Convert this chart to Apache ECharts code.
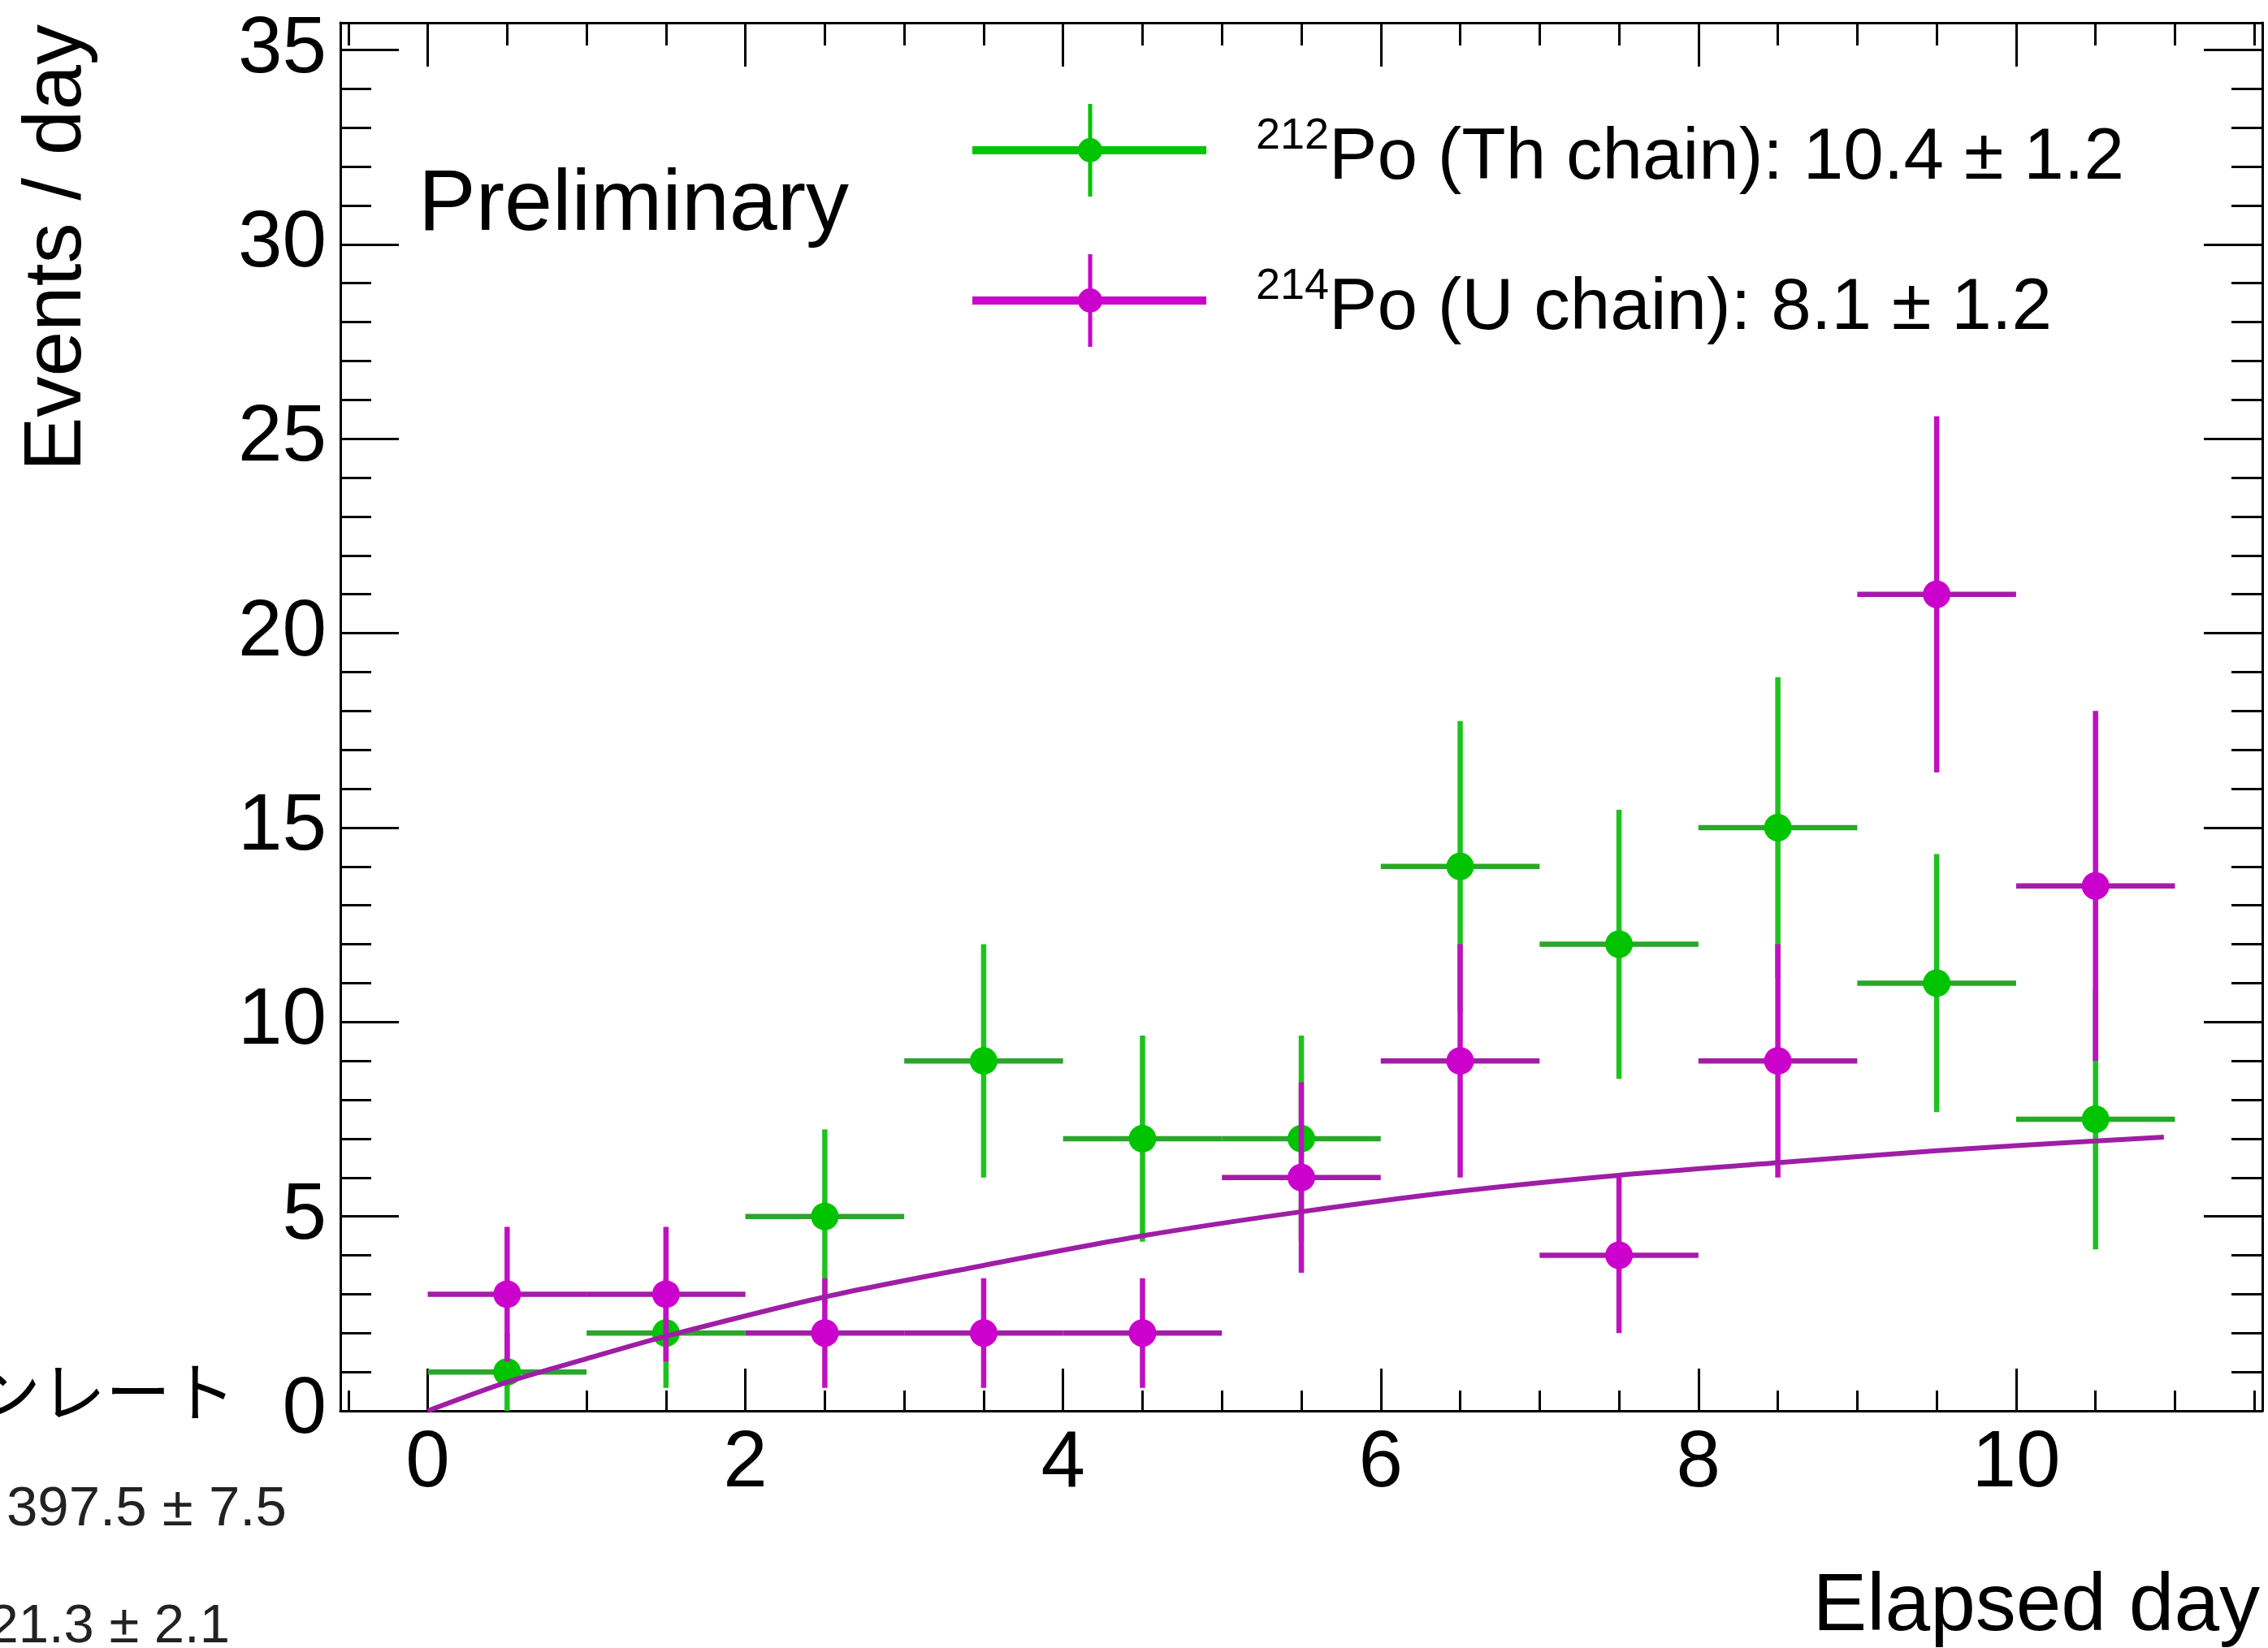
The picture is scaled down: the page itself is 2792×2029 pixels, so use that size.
<!DOCTYPE html>
<html><head><meta charset="utf-8">
<script src="https://cdn.jsdelivr.net/npm/echarts@6/dist/echarts.min.js"></script>
<style>html,body{margin:0;padding:0;background:#fff}#c{width:2792px;height:2029px}</style>
</head><body><div id="c"></div>
<script>
// ---- data ----
const days = [0.5, 1.5, 2.5, 3.5, 4.5, 5.5, 6.5, 7.5, 8.5, 9.5, 10.5];
const binHalfWidth = 0.5;
const thValues = [1, 2, 5, 9, 7, 7, 14, 12, 15, 11, 7.5];
const thErrors = [1.0, 1.41, 2.24, 3.0, 2.65, 2.65, 3.74, 3.46, 3.87, 3.32, 3.35];
const uValues = [3, 3, 2, 2, 2, 6, 9, 4, 9, 21, 13.5];
const uErrors = [1.73, 1.73, 1.41, 1.41, 1.41, 2.45, 3.0, 2.0, 3.0, 4.58, 4.5];
const fitDays = [0, 0.5, 1.0, 1.5, 2.5, 3.5, 4.5, 5.5, 6.5, 7.5, 8.5, 9.5, 10.5, 10.93];
const fitValues = [0, 0.74, 1.34, 1.92, 2.93, 3.74, 4.50, 5.12, 5.65, 6.06, 6.38, 6.69, 6.94, 7.04];
const xMajorTicks = [0, 2, 4, 6, 8, 10];
const xMinorTicks = [-0.5, 0.5, 1, 1.5, 2.5, 3, 3.5, 4.5, 5, 5.5, 6.5, 7, 7.5, 8.5, 9, 9.5, 10.5, 11, 11.5];
const yMajorTicks = [0, 5, 10, 15, 20, 25, 30, 35];
const yMinorTicks = [1,2,3,4,6,7,8,9,11,12,13,14,16,17,18,19,21,22,23,24,26,27,28,29,31,32,33,34];
const seriesNames = ['212Po (Th chain)', '214Po (U chain)'];
const legendIsotopes = ['212', '214'];
const legendTexts = ['Po (Th chain): 10.4 \u00b1 1.2', 'Po (U chain): 8.1 \u00b1 1.2'];
const noteTexts = ['\u30f3\u30ec\u30fc\u30c8', '397.5 \u00b1 7.5', '21.3 \u00b1 2.1'];

// ---- layout / style ----
const X_MIN = -0.55, X_MAX = 11.55, Y_MIN = 0, Y_MAX = 35.7;
const FONT = '"Liberation Sans", Arial, Helvetica, sans-serif';
const GREEN = {dot: '#00c400', v: '#1ec21e', h: '#2aa62a'};
const MAGENTA = {dot: '#cc00cc', v: '#c010c0', h: '#a41ca8'};
const FIT_COLOR = '#9e1ea6';

function buildPoints(vals, errs) {
  return days.map((d, i) => [d, vals[i], d - binHalfWidth, d + binHalfWidth, vals[i] - errs[i], vals[i] + errs[i]]);
}
function renderErr(col) {
  return function (params, api) {
    const x = api.value(0), y = api.value(1);
    const c = api.coord([x, y]);
    const l = api.coord([api.value(2), y]), r = api.coord([api.value(3), y]);
    const b = api.coord([x, api.value(4)]), t = api.coord([x, api.value(5)]);
    return {type: 'group', children: [
      {type: 'line', shape: {x1: l[0], y1: l[1], x2: r[0], y2: r[1]}, style: {stroke: col.h, lineWidth: 6.5}},
      {type: 'line', shape: {x1: b[0], y1: b[1], x2: t[0], y2: t[1]}, style: {stroke: col.v, lineWidth: 6.5}},
      {type: 'circle', shape: {cx: c[0], cy: c[1], r: 17}, style: {fill: col.dot}}
    ]};
  };
}

const lineStyle = {color: '#000', width: 3};
function xAxisDef(pos, ticks, len, withLabels, withLine) {
  return {type: 'value', position: pos, min: X_MIN, max: X_MAX, splitLine: {show: false},
    axisLine: {show: withLine, onZero: false, lineStyle: lineStyle},
    axisTick: {show: true, inside: true, length: len, customValues: ticks, lineStyle: lineStyle},
    axisLabel: withLabels ? {show: true, customValues: ticks, fontSize: 98, fontFamily: FONT, color: '#000', margin: 17} : {show: false}};
}
function yAxisDef(pos, ticks, len, withLabels, withLine) {
  return {type: 'value', position: pos, min: Y_MIN, max: Y_MAX, splitLine: {show: false},
    axisLine: {show: withLine, onZero: false, lineStyle: lineStyle},
    axisTick: {show: true, inside: true, length: len, customValues: ticks, lineStyle: lineStyle},
    axisLabel: withLabels ? {show: true, customValues: ticks, fontSize: 98, fontFamily: FONT, color: '#000', margin: 17} : {show: false}};
}

// legend icon: horizontal bar + vertical bar + dot (box 288 x 114), all wound clockwise
const legendIcon = 'path://M0 52 L288 52 L288 62 L0 62 Z M142.5 0 L147.5 0 L147.5 114 L142.5 114 Z M130 57 A15 15 0 1 1 160 57 A15 15 0 1 1 130 57 Z';

const chart = echarts.init(document.getElementById('c'), null, {renderer: 'canvas'});
chart.setOption({
  backgroundColor: '#fff',
  animation: false,
  textStyle: {fontFamily: FONT},
  grid: {left: 419, right: 7, top: 28, bottom: 292, show: false},
  xAxis: [
    xAxisDef('bottom', xMajorTicks, 52, true, true),
    xAxisDef('bottom', xMinorTicks, 25, false, false),
    xAxisDef('top', xMajorTicks, 54, false, true),
    xAxisDef('top', xMinorTicks, 28, false, false)
  ],
  yAxis: [
    yAxisDef('left', yMajorTicks, 72, true, true),
    yAxisDef('left', yMinorTicks, 38, false, false),
    yAxisDef('right', yMajorTicks, 72, false, true),
    yAxisDef('right', yMinorTicks, 38, false, false)
  ],
  legend: {
    orient: 'vertical', left: 1197, top: 128, padding: 0, itemGap: 71,
    itemWidth: 288, itemHeight: 114, selectedMode: false,
    itemStyle: {borderWidth: 0},
    data: [{name: seriesNames[0], icon: legendIcon}, {name: seriesNames[1], icon: legendIcon}],
    formatter: function (name) {
      const i = seriesNames.indexOf(name);
      return '{sup|' + legendIsotopes[i] + '}{base|' + legendTexts[i] + '}';
    },
    textStyle: {
      color: '#000', fontFamily: FONT, fontSize: 89, padding: [20, 0, 0, 56],
      rich: {
        sup: {fontSize: 54, lineHeight: 50, verticalAlign: 'top', fontFamily: FONT, color: '#000'},
        base: {fontSize: 89, lineHeight: 108, fontFamily: FONT, color: '#000'}
      }
    }
  },
  series: [
    {name: seriesNames[0], type: 'custom', xAxisIndex: 0, yAxisIndex: 0, z: 2,
      itemStyle: {color: GREEN.dot}, renderItem: renderErr(GREEN),
      dimensions: ['x', 'y', 'xl', 'xh', 'yl', 'yh'], encode: {x: 0, y: 1},
      data: buildPoints(thValues, thErrors)},
    {name: seriesNames[1], type: 'custom', xAxisIndex: 0, yAxisIndex: 0, z: 3,
      itemStyle: {color: MAGENTA.dot}, renderItem: renderErr(MAGENTA),
      dimensions: ['x', 'y', 'xl', 'xh', 'yl', 'yh'], encode: {x: 0, y: 1},
      data: buildPoints(uValues, uErrors)},
    {name: 'fit', type: 'line', xAxisIndex: 0, yAxisIndex: 0, z: 4, smooth: 0.3,
      showSymbol: false, symbol: 'none', lineStyle: {color: FIT_COLOR, width: 6},
      data: fitDays.map((d, i) => [d, fitValues[i]])}
  ],
  graphic: [
    {type: 'text', x: 515, y: 254, style: {text: 'Preliminary', fontSize: 106, fontFamily: FONT, fill: '#000', align: 'left', verticalAlign: 'middle'}},
    {type: 'text', x: 2782, y: 1979, style: {text: 'Elapsed day', fontSize: 100, fontFamily: FONT, fill: '#000', align: 'right', verticalAlign: 'middle'}},
    {type: 'text', x: 71, y: 30, rotation: Math.PI / 2, style: {text: 'Events / day', fontSize: 100, fontFamily: FONT, fill: '#000', align: 'right', verticalAlign: 'middle'}},
    {type: 'text', x: 290, y: 1713, style: {text: noteTexts[0], fontSize: 80, fontFamily: '"Noto Sans CJK JP", sans-serif', fill: '#000', align: 'right', verticalAlign: 'middle'}},
    {type: 'text', x: 8, y: 1859, style: {text: noteTexts[1], fontSize: 69, fontFamily: FONT, fill: '#222', align: 'left', verticalAlign: 'middle'}},
    {type: 'text', x: 283, y: 2004, style: {text: noteTexts[2], fontSize: 67, fontFamily: FONT, fill: '#222', align: 'right', verticalAlign: 'middle'}}
  ]
});
</script></body></html>
